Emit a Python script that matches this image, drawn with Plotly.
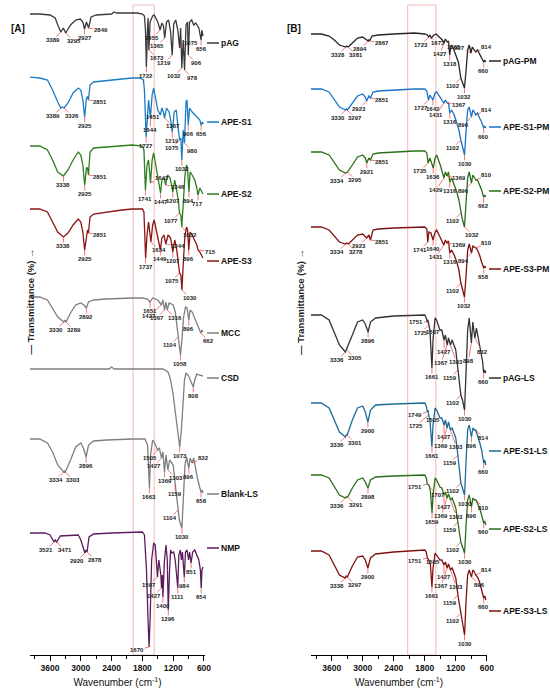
import plotly.graph_objects as go

# FTIR spectra, stacked (values are offset transmittance levels)
# ---------------- panel A ----------------
pag_wn = [4000, 3800, 3600, 3500, 3440, 3389, 3340, 3295, 3200, 3100,
          3010, 2960, 2927, 2890, 2849, 2800, 2700, 2400, 2350, 2300,
          2100, 1900, 1800, 1760, 1740, 1722, 1700, 1690, 1673, 1650,
          1600, 1570, 1500, 1455, 1420, 1390, 1365, 1330, 1290, 1250,
          1219, 1190, 1150, 1110, 1075, 1055, 1032, 1005, 978, 950,
          920, 906, 880, 840, 800, 760, 700, 656, 640, 620]
pag_t = [641, 641, 640, 637, 629, 623, 627, 622, 630, 635,
         636, 633, 626, 633, 627, 638, 640, 641, 643, 642,
         642, 642, 641, 639, 625, 588, 625, 637, 605, 633,
         639, 640, 633, 625, 632, 629, 617, 633, 635, 623,
         600, 631, 635, 625, 607, 627, 587, 615, 585, 630,
         633, 600, 633, 635, 630, 632, 627, 615, 625, 619]
pag_peaks = [3389, 3295, 2927, 2849, 1722, 1673, 1455, 1365, 1219, 1075, 1032, 978, 906, 656]

s1_wn = [4000, 3800, 3650, 3550, 3450, 3389, 3360, 3326, 3250, 3150,
         3050, 3000, 2960, 2925, 2890, 2870, 2851, 2820, 2750, 2600,
         2400, 2200, 2000, 1850, 1780, 1760, 1727, 1700, 1680, 1644,
         1610, 1580, 1540, 1500, 1451, 1420, 1390, 1367, 1330, 1280,
         1250, 1219, 1180, 1140, 1110, 1075, 1050, 1032, 1005, 980,
         950, 930, 906, 880, 830, 780, 720, 680, 656, 630, 615]
s1_t = [578, 577, 575, 565, 553, 547, 548, 547, 552, 562,
        567, 565, 555, 538, 557, 558, 555, 570, 573, 574,
        575, 576, 577, 577, 575, 565, 518, 540, 555, 537,
        560, 567, 555, 545, 540, 547, 543, 537, 547, 543,
        535, 523, 543, 545, 530, 515, 517, 495, 525, 512,
        553, 555, 530, 547, 543, 540, 537, 535, 530, 533, 531]
s1_peaks = [3389, 3326, 2925, 2851, 1727, 1644, 1451, 1367, 1219, 1075, 1032, 980, 906, 656]

s2_wn = [4000, 3800, 3650, 3550, 3450, 3338, 3250, 3150, 3050, 3000,
         2960, 2925, 2890, 2870, 2851, 2820, 2750, 2500, 2200, 2000,
         1800, 1770, 1741, 1710, 1680, 1642, 1610, 1580, 1540, 1500,
         1447, 1420, 1380, 1346, 1310, 1260, 1207, 1170, 1130, 1100,
         1077, 1050, 1032, 1005, 970, 940, 920, 894, 870, 830,
         780, 740, 717, 680, 650, 620]
s2_t = [509, 509, 505, 495, 483, 479, 485, 495, 503, 500,
        490, 470, 487, 487, 480, 503, 507, 508, 509, 510,
        509, 505, 465, 490, 495, 472, 495, 502, 490, 477,
        462, 475, 477, 470, 480, 477, 463, 475, 465, 455,
        442, 440, 428, 455, 480, 490, 487, 463, 483, 480,
        475, 467, 460, 467, 463, 461]
s2_peaks = [3338, 2925, 2851, 1741, 1642, 1447, 1346, 1207, 1077, 1032, 894, 717]

s3_wn = [4000, 3800, 3650, 3550, 3450, 3338, 3250, 3150, 3050, 3000,
         2960, 2925, 2890, 2870, 2851, 2820, 2750, 2500, 2200, 2000,
         1800, 1770, 1737, 1710, 1680, 1634, 1600, 1570, 1530, 1490,
         1449, 1420, 1380, 1344, 1300, 1250, 1207, 1170, 1130, 1100,
         1075, 1050, 1030, 1000, 970, 940, 920, 896, 870, 830,
         780, 740, 715, 680, 640, 620]
s3_t = [446, 446, 443, 433, 423, 418, 422, 430, 436, 433,
        423, 405, 422, 425, 422, 438, 441, 443, 445, 446,
        446, 443, 397, 420, 433, 413, 430, 435, 423, 415,
        405, 417, 420, 411, 420, 417, 403, 415, 405, 395,
        382, 380, 365, 395, 420, 428, 425, 405, 423, 420,
        415, 410, 405, 403, 399, 397]
s3_peaks = [3338, 2925, 2851, 1737, 1634, 1449, 1344, 1207, 1075, 1030, 896, 715]

mcc_wn = [4000, 3800, 3650, 3550, 3450, 3330, 3310, 3289, 3200, 3100,
          3000, 2940, 2892, 2850, 2750, 2500, 2200, 2000, 1800, 1700,
          1651, 1600, 1500, 1427, 1400, 1367, 1340, 1316, 1280, 1200,
          1160, 1130, 1104, 1080, 1058, 1030, 1000, 960, 930, 896,
          870, 830, 780, 720, 680, 662, 640, 620]
mcc_t = [358, 358, 355, 347, 338, 333, 335, 333, 342, 350,
         352, 350, 347, 353, 355, 356, 357, 357, 357, 356,
         353, 357, 355, 350, 355, 345, 353, 345, 352, 350,
         343, 330, 318, 310, 300, 315, 337, 348, 347, 335,
         345, 343, 337, 330, 325, 322, 325, 323]
mcc_peaks = [3330, 3289, 2892, 1651, 1427, 1367, 1316, 1104, 1058, 896, 662]

csd_wn = [4000, 3600, 3000, 2450, 2400, 2350, 1800, 1400, 1300, 1250,
          1200, 1150, 1110, 1073, 1040, 1010, 980, 950, 900, 850,
          808, 780, 740, 700, 650, 620]
csd_t = [286, 286, 286, 286, 288, 286, 286, 286, 283, 275,
         260, 240, 223, 208, 225, 255, 275, 282, 279, 273,
         268, 275, 281, 280, 279, 279]
csd_peaks = [1073, 808]

bls_wn = [4000, 3800, 3650, 3550, 3450, 3334, 3320, 3303, 3200, 3100,
          3000, 2950, 2896, 2850, 2750, 2500, 2000, 1750, 1700, 1663,
          1640, 1600, 1560, 1505, 1470, 1427, 1400, 1369, 1340, 1303,
          1270, 1200, 1159, 1130, 1104, 1080, 1030, 1000, 970, 940,
          896, 870, 832, 800, 760, 720, 680, 658, 640, 620]
bls_t = [216, 216, 212, 203, 190, 183, 184, 183, 195, 208,
         212, 207, 198, 210, 214, 215, 216, 216, 210, 167,
         200, 215, 212, 205, 207, 197, 203, 183, 200, 185,
         195, 190, 170, 155, 145, 135, 127, 155, 190, 198,
         187, 197, 192, 197, 185, 175, 167, 163, 165, 162]
bls_peaks = [3334, 3303, 2896, 1663, 1505, 1427, 1369, 1303, 1159, 1104, 1030, 896, 832, 658]

nmp_wn = [4000, 3700, 3600, 3521, 3500, 3471, 3400, 3200, 3050, 3000,
          2960, 2920, 2900, 2878, 2840, 2750, 2400, 2000, 1800, 1760,
          1720, 1690, 1670, 1650, 1620, 1580, 1550, 1507, 1480, 1440,
          1427, 1410, 1400, 1370, 1340, 1315, 1296, 1270, 1250, 1230,
          1190, 1160, 1111, 1090, 1060, 1040, 1020, 984, 960, 930,
          900, 880, 851, 820, 780, 740, 700, 670, 654, 640, 620]
nmp_t = [122, 122, 120, 113, 115, 113, 119, 120, 120, 115,
         107, 102, 105, 103, 118, 121, 122, 123, 123, 120,
         85, 35, 8, 35, 95, 112, 110, 78, 95, 80,
         67, 80, 58, 95, 110, 95, 45, 85, 105, 102,
         103, 95, 67, 100, 105, 95, 103, 78, 103, 105,
         95, 103, 92, 103, 105, 100, 95, 85, 67, 85, 88]
nmp_peaks = [3521, 3471, 2920, 2878, 1670, 1507, 1427, 1400, 1296, 1111, 984, 851, 654]

# ---------------- panel B ----------------
pagpm_wn = [4000, 3800, 3650, 3550, 3450, 3328, 3310, 3281, 3200, 3100,
            3000, 2940, 2894, 2880, 2867, 2820, 2700, 2400, 2000, 1800,
            1750, 1723, 1700, 1673, 1620, 1580, 1500, 1460, 1427, 1400,
            1365, 1340, 1318, 1290, 1250, 1200, 1150, 1102, 1070, 1032,
            1000, 970, 940, 907, 880, 840, 814, 780, 740, 700,
            660, 640, 620]
pagpm_t = [621, 621, 619, 615, 610, 608, 609, 608, 612, 617,
           618, 616, 614, 615, 614, 619, 620, 621, 622, 621,
           620, 618, 620, 617, 620, 621, 617, 615, 612, 616,
           613, 614, 600, 610, 607, 600, 593, 577, 573, 567,
           585, 605, 610, 602, 608, 605, 603, 605, 601, 597,
           593, 595, 593]
pagpm_peaks = [3328, 3281, 2894, 2867, 1723, 1673, 1427, 1365, 1318, 1102, 1032, 907, 814, 660]

s1pm_wn = [4000, 3800, 3650, 3550, 3450, 3330, 3310, 3297, 3200, 3100,
           3000, 2950, 2923, 2880, 2851, 2800, 2700, 2400, 2000, 1800,
           1760, 1727, 1700, 1642, 1600, 1570, 1500, 1431, 1400, 1367,
           1340, 1316, 1280, 1230, 1180, 1140, 1102, 1070, 1030, 1000,
           970, 940, 896, 870, 840, 814, 780, 740, 700, 660,
           640, 620]
s1pm_t = [566, 566, 563, 555, 548, 545, 546, 545, 552, 559,
          561, 558, 554, 559, 557, 563, 564, 565, 566, 566,
          564, 555, 560, 555, 562, 563, 558, 552, 555, 552,
          552, 542, 545, 540, 532, 525, 515, 507, 500, 525,
          545, 548, 538, 545, 543, 540, 542, 537, 533, 527,
          529, 527]
s1pm_peaks = [3330, 3297, 2923, 2851, 1727, 1642, 1431, 1367, 1316, 1102, 1030, 896, 814, 660]

s2pm_wn = [4000, 3800, 3650, 3550, 3450, 3334, 3310, 3295, 3200, 3100,
           3000, 2950, 2921, 2880, 2851, 2800, 2700, 2400, 2000, 1800,
           1760, 1735, 1700, 1636, 1600, 1570, 1500, 1429, 1400, 1369,
           1340, 1316, 1280, 1230, 1180, 1140, 1102, 1070, 1032, 1000,
           970, 940, 896, 870, 840, 810, 780, 740, 700, 662,
           640, 620]
s2pm_t = [503, 503, 500, 492, 485, 482, 483, 483, 490, 498,
          500, 497, 492, 497, 495, 501, 502, 503, 504, 504,
          502, 492, 497, 487, 497, 500, 490, 477, 483, 479,
          483, 473, 477, 470, 463, 455, 442, 435, 428, 455,
          477, 483, 472, 480, 478, 475, 475, 470, 465, 458,
          460, 458]
s2pm_peaks = [3334, 3295, 2921, 2851, 1735, 1636, 1429, 1369, 1316, 1102, 1032, 896, 810, 662]

s3pm_wn = [4000, 3800, 3650, 3550, 3450, 3334, 3310, 3278, 3200, 3100,
           3000, 2950, 2923, 2880, 2851, 2800, 2700, 2400, 2000, 1800,
           1760, 1741, 1720, 1680, 1640, 1600, 1570, 1500, 1431, 1400,
           1369, 1340, 1316, 1280, 1230, 1180, 1140, 1102, 1070, 1032,
           1000, 970, 940, 894, 870, 840, 810, 780, 740, 700,
           658, 640, 620]
s3pm_t = [428, 428, 425, 419, 413, 411, 412, 411, 415, 420,
          421, 419, 417, 420, 415, 425, 426, 427, 428, 428,
          426, 413, 423, 422, 415, 423, 425, 418, 410, 415,
          412, 414, 402, 405, 400, 393, 385, 372, 365, 358,
          380, 405, 411, 402, 409, 408, 407, 405, 400, 393,
          387, 389, 387]
s3pm_peaks = [3334, 3278, 2923, 2851, 1741, 1640, 1431, 1369, 1316, 1102, 1032, 894, 810, 658]

pagls_wn = [4000, 3800, 3650, 3550, 3450, 3336, 3320, 3305, 3200, 3100,
            3000, 2950, 2896, 2850, 2750, 2400, 2000, 1800, 1770, 1751,
            1740, 1725, 1700, 1661, 1640, 1600, 1570, 1507, 1470, 1427,
            1400, 1367, 1340, 1303, 1270, 1200, 1159, 1130, 1102, 1070,
            1030, 1000, 970, 940, 898, 870, 832, 800, 760, 720,
            680, 660, 640, 620]
pagls_t = [340, 340, 335, 323, 310, 303, 305, 305, 320, 333,
           335, 331, 323, 333, 337, 339, 340, 340, 337, 333,
           335, 330, 325, 287, 315, 337, 335, 325, 325, 315,
           320, 310, 317, 310, 315, 305, 285, 275, 260, 255,
           245, 285, 325, 337, 312, 333, 317, 327, 315, 303,
           293, 282, 285, 282]
pagls_peaks = [3336, 3305, 2896, 1751, 1725, 1661, 1507, 1427, 1367, 1303, 1159, 1102, 1030, 898, 832, 660]

s1ls_wn = [4000, 3800, 3650, 3550, 3450, 3336, 3320, 3301, 3200, 3100,
           3000, 2950, 2900, 2850, 2750, 2400, 2000, 1800, 1770, 1749,
           1735, 1725, 1700, 1661, 1640, 1600, 1570, 1505, 1470, 1427,
           1400, 1369, 1340, 1303, 1270, 1200, 1159, 1130, 1102, 1070,
           1030, 1000, 970, 940, 896, 870, 840, 814, 780, 740,
           700, 660, 640, 620]
s1ls_t = [252, 252, 247, 235, 223, 218, 220, 220, 235, 247,
          249, 243, 233, 245, 250, 251, 252, 252, 249, 243,
          245, 240, 235, 208, 230, 247, 245, 237, 237, 230,
          235, 227, 233, 225, 227, 217, 200, 187, 172, 167,
          160, 195, 225, 230, 218, 227, 225, 225, 220, 213,
          205, 192, 195, 190]
s1ls_peaks = [3336, 3301, 2900, 1749, 1725, 1661, 1505, 1427, 1369, 1303, 1159, 1102, 1030, 896, 814, 660]

s2ls_wn = [4000, 3800, 3650, 3550, 3450, 3336, 3320, 3291, 3200, 3100,
           3000, 2950, 2898, 2850, 2750, 2400, 2000, 1800, 1770, 1751,
           1720, 1707, 1690, 1659, 1640, 1600, 1570, 1505, 1470, 1427,
           1400, 1369, 1340, 1303, 1270, 1200, 1159, 1130, 1102, 1070,
           1030, 1000, 970, 940, 896, 870, 840, 810, 780, 740,
           700, 660, 640, 620]
s2ls_t = [180, 180, 177, 168, 160, 157, 158, 158, 167, 175,
          177, 173, 167, 175, 178, 179, 180, 180, 177, 171,
          170, 168, 163, 142, 160, 177, 175, 168, 167, 160,
          163, 157, 161, 155, 157, 147, 133, 123, 113, 108,
          102, 130, 155, 160, 148, 157, 155, 155, 152, 147,
          140, 132, 134, 130]
s2ls_peaks = [3336, 3291, 2898, 1751, 1707, 1659, 1427, 1369, 1303, 1159, 1102, 1030, 896, 810, 660]

s3ls_wn = [4000, 3800, 3650, 3550, 3450, 3338, 3320, 3297, 3200, 3100,
           3000, 2950, 2900, 2850, 2750, 2400, 2000, 1800, 1770, 1751,
           1720, 1690, 1661, 1640, 1600, 1570, 1505, 1470, 1427, 1400,
           1367, 1340, 1303, 1270, 1200, 1159, 1130, 1102, 1070, 1030,
           1000, 970, 940, 896, 870, 840, 814, 780, 740, 700,
           660, 640, 620]
s3ls_t = [104, 104, 100, 90, 80, 77, 79, 78, 89, 98,
          99, 95, 87, 97, 101, 103, 104, 105, 103, 97,
          95, 90, 68, 87, 102, 100, 95, 95, 90, 93,
          87, 91, 85, 87, 77, 60, 50, 42, 33, 20,
          55, 80, 85, 78, 85, 83, 80, 78, 73, 65,
          57, 59, 55]
s3ls_peaks = [3338, 3297, 2900, 1751, 1661, 1505, 1427, 1367, 1303, 1159, 1102, 1030, 896, 814, 660]

# ---------------- styling ----------------
# where each peak label sits relative to its peak (px)
OFFS = {"b": (0, 9), "bl": (-8, 8), "br": (8, 8), "l": (-12, 3), "r": (12, 2),
        "tl": (-11, -5), "tr": (11, -5), "l0": (-11, 0), "ll": (-13, 11),
        "b3": (-3, 18), "br2": (8, 14),
        "a": (-7, 2), "c": (0, 12), "d": (-6, 18), "e": (6, 17),
        "f": (-8, 12), "g": (7, 5), "h": (-4, 11)}

# name, wn, t, peaks, colour, label codes, name-label nudge (px)
panel_a = [
    ("pAG", pag_wn, pag_t, pag_peaks, "#3a3a3a", "bl br b r b br bl bl bl tr bl br br b", 7),
    ("APE-S1", s1_wn, s1_t, s1_peaks, "#1b7cc4", "bl br b r b c a br b bl b br b b", -2),
    ("APE-S2", s2_wn, s2_t, s2_peaks, "#2e7d1f", "b b r b tr b r b bl br b b", 0),
    ("APE-S3", s3_wn, s3_t, s3_peaks, "#8b1414", "b b r b br b r b bl br b r", 3),
    ("MCC", mcc_wn, mcc_t, mcc_peaks, "#7f7f7f", "bl br b b ll bl br bl b b br", 1),
    ("CSD", csd_wn, csd_t, csd_peaks, "#7f7f7f", "b b", 2),
    ("Blank-LS", bls_wn, bls_t, bls_peaks, "#7f7f7f", "bl br b b bl bl b br b bl b b tr b", 1),
    ("NMP", nmp_wn, nmp_t, nmp_peaks, "#5c1c5c", "bl br bl br l bl bl b b b b b b", -19),
]
panel_b = [
    ("pAG-PM", pagpm_wn, pagpm_t, pagpm_peaks, "#262626", "bl br bl r bl g h g b bl b tl tr b", -1),
    ("APE-S1-PM", s1pm_wn, s1pm_t, s1pm_peaks, "#1a73c7", "bl br bl r bl b f r b bl b bl tr b", -1),
    ("APE-S2-PM", s2pm_wn, s2pm_t, s2pm_peaks, "#2b6e1a", "bl br b r bl b f r b bl br bl tr b", -6),
    ("APE-S3-PM", s3pm_wn, s3pm_t, s3pm_peaks, "#7f1010", "bl br bl r bl b f r b bl b bl tr b", 1),
    ("pAG-LS", pagls_wn, pagls_t, pagls_peaks, "#333333", "bl br b l0 bl b a c d e bl bl b b3 br2 b", 5),
    ("APE-S1-LS", s1ls_wn, s1ls_t, s1ls_peaks, "#1f6b96", "bl br b l ll b a c d e bl bl b b br b", -14),
    ("APE-S2-LS", s2ls_wn, s2ls_t, s2ls_peaks, "#2b6e1a", "bl br b l br b c d e bl bl b b br b", 4),
    ("APE-S3-LS", s3ls_wn, s3ls_t, s3ls_peaks, "#7f1010", "bl br b l b a c d e bl bl b br tr b", 11),
]

FONT = "Liberation Sans"
fig = go.Figure()
annotations = []

for panel, ax_id, name_x in [(panel_a, "", 207 / 550), (panel_b, "2", 489 / 550)]:
    for name, wn, t, peaks, col, codes, nudge in panel:
        fig.add_trace(go.Scatter(x=wn, y=t, mode="lines", line=dict(color=col, width=1.3),
                                 xaxis="x" + ax_id, yaxis="y" + ax_id, showlegend=False))
        lookup = dict(zip(wn, t))
        for p, c in zip(peaks, codes.split()):
            dx, dy = OFFS[c]
            annotations.append(dict(x=p, y=lookup[p], xref="x" + ax_id, yref="y" + ax_id,
                                    text=str(p), showarrow=True, ax=dx, ay=dy,
                                    arrowhead=0, arrowwidth=0.7, arrowcolor="#e8413c",
                                    standoff=0, startstandoff=0, borderpad=0,
                                    font=dict(family=FONT, size=6, color="#222222", weight="bold")))
        annotations.append(dict(x=name_x, y=t[-1] - nudge, xref="paper", yref="y" + ax_id,
                                text=name, showarrow=True, ax=12, ay=0, xanchor="left",
                                arrowhead=0, arrowwidth=1.5, arrowcolor=col, standoff=0,
                                font=dict(family=FONT, size=8.5, color="#111111", weight="bold")))

for txt, x in [("[A]", 9 / 550), ("[B]", 294 / 550)]:
    annotations.append(dict(x=x, y=(655 - 21) / 655, xref="paper", yref="paper", text=txt,
                            showarrow=False, font=dict(family=FONT, size=10, color="#111111", weight="bold")))
for x in [22 / 550, 300 / 550]:
    annotations.append(dict(x=x, y=(655 - 302) / 655, xref="paper", yref="paper",
                            text="— Transmittance (%) →", textangle=-90, showarrow=False,
                            font=dict(family=FONT, size=9.5, color="#222222", weight="bold")))

# highlighted band
shapes = [
    dict(type="rect", xref="x", yref="y", x0=1980, x1=1570, y0=0, y1=650,
         line=dict(color="#f2b8b8", width=1), layer="below"),
    dict(type="rect", xref="x2", yref="y2", x0=2130, x1=1585, y0=0, y1=650,
         line=dict(color="#f2b8b8", width=1), layer="below"),
]

xax = dict(showline=True, linecolor="black", linewidth=1.4, ticks="outside", ticklen=5,
           tickwidth=1.2, tickcolor="black", tick0=0, dtick=600, showgrid=False, zeroline=False,
           minor=dict(dtick=300, ticks="outside", ticklen=3, tickwidth=1, tickcolor="black"),
           tickfont=dict(family=FONT, size=8.5, color="#111111", weight="bold"),
           automargin=False,
           title=dict(text="Wavenumber (cm<sup>-1</sup>)", standoff=6,
                      font=dict(family=FONT, size=10, color="#111111")))
yax = dict(visible=False, range=[0, 655], fixedrange=True)

fig.update_layout(
    width=550, height=692, margin=dict(l=0, r=0, t=0, b=37),
    plot_bgcolor="white", paper_bgcolor="white",
    xaxis=dict(xax, domain=[30 / 550, 205 / 550], range=[3990, 580], anchor="y"),
    xaxis2=dict(xax, domain=[311 / 550, 487 / 550], range=[4000, 596], anchor="y2"),
    yaxis=dict(yax, domain=[0, 1], anchor="x"),
    yaxis2=dict(yax, domain=[0, 1], anchor="x2"),
    annotations=annotations, shapes=shapes,
)

fig.write_html("out.html", config={"displayModeBar": False},
               post_script="document.body.style.margin='0px';")
